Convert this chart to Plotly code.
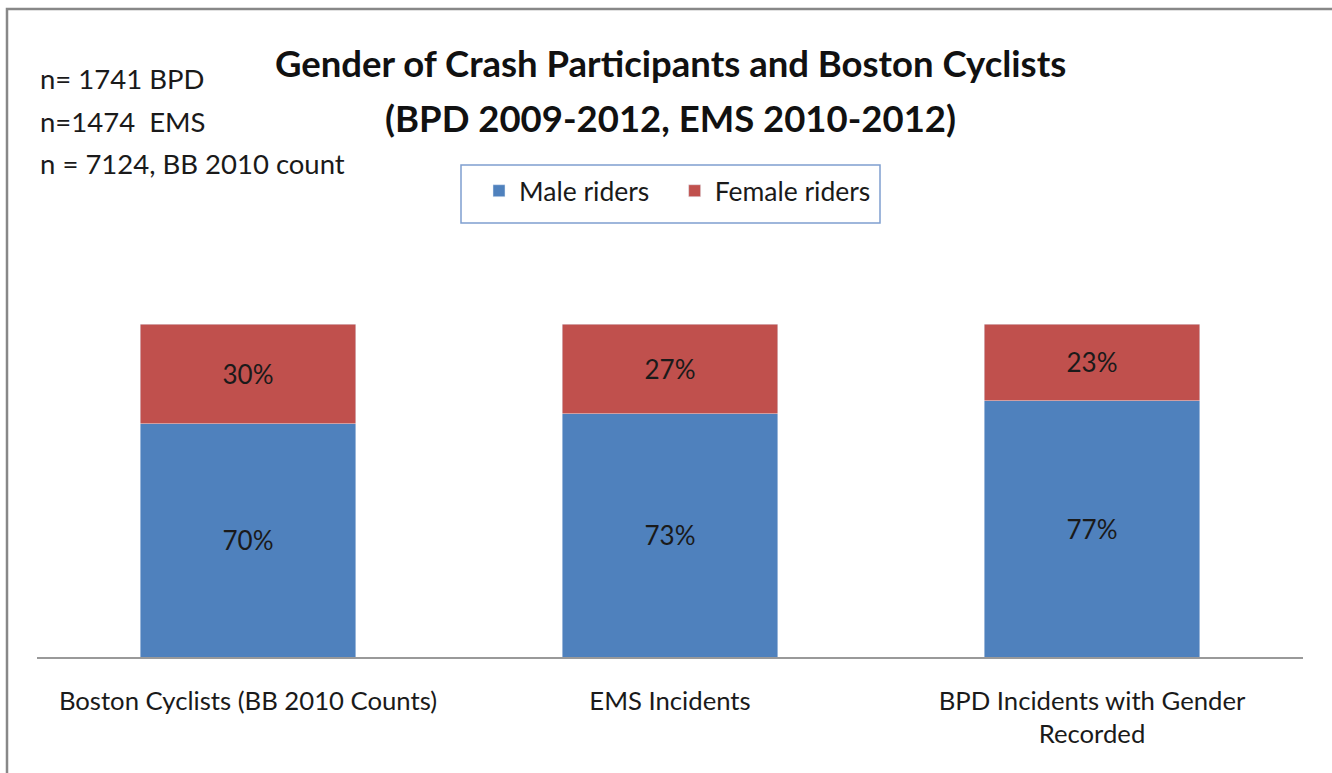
import plotly.graph_objects as go

categories = ["Boston Cyclists (BB 2010 Counts)", "EMS Incidents", "BPD Incidents with Gender<br>Recorded"]
male = [0.70, 0.73, 0.77]
female = [0.30, 0.27, 0.23]
notes = ["n= 1741 BPD", "n=1474  EMS", "n = 7124, BB 2010 count"]
title_lines = ["Gender of Crash Participants and Boston Cyclists", "(BPD 2009-2012, EMS 2010-2012)"]
series_names = ["Male riders", "Female riders"]

FONT = "Lato"
W, H = 1332, 773
ML, MR, MT, MB = 37, 29, 324, 116
PW, PH = W - ML - MR, H - MT - MB
PAD = "\u00a0" * 3


def px_x(x):
    return (x - ML) / PW


def px_y(y):
    return (H - MB - y) / PH


fig = go.Figure()
fig.add_trace(go.Bar(x=categories, y=male, name=series_names[0] + PAD, marker_color="#4F81BD",
                     texttemplate="%{y:.0%}", textposition="inside", insidetextanchor="middle",
                     textfont=dict(size=26, color="#1a1a1a", family=FONT)))
fig.add_trace(go.Bar(x=categories, y=female, name=series_names[1], marker_color="#C0504D",
                     texttemplate="%{y:.0%}", textposition="inside", insidetextanchor="middle",
                     textfont=dict(size=26, color="#1a1a1a", family=FONT)))

fig.update_layout(
    width=W, height=H, barmode="stack", bargap=0.49,
    paper_bgcolor="white", plot_bgcolor="white",
    margin=dict(l=ML, r=MR, t=MT, b=MB),
    font=dict(family=FONT, color="#1a1a1a"),
    legend=dict(orientation="h", xref="container", yref="container",
                x=479 / W, xanchor="left", y=1 - 167 / H, yanchor="top",
                borderwidth=0, bgcolor="rgba(0,0,0,0)",
                font=dict(size=26.5, family=FONT, color="#1a1a1a"),
                itemwidth=30, traceorder="normal"),
    xaxis=dict(showline=True, linecolor="#999", linewidth=1.5, showgrid=False, ticks="",
               tickfont=dict(size=25.7, family=FONT, color="#1a1a1a"), ticklabelstandoff=20),
    yaxis=dict(range=[0, 1], visible=False),
    showlegend=True,
)

for txt, yc in zip(title_lines, [63, 118]):
    fig.add_annotation(text="<b>" + txt + "</b>", xref="paper", yref="paper",
                       x=px_x(670), xanchor="center", y=px_y(yc), yanchor="middle",
                       showarrow=False, font=dict(size=36.5, family=FONT, color="#111"))

for i, t in enumerate(notes):
    fig.add_annotation(text=t, xref="paper", yref="paper", x=px_x(38), xanchor="left",
                       y=px_y(78 + 43 * i), yanchor="middle",
                       showarrow=False, font=dict(size=27.5, family=FONT, color="#1a1a1a"))

# legend box
fig.add_shape(type="rect", xref="paper", yref="paper",
              x0=px_x(461), x1=px_x(880), y0=px_y(223), y1=px_y(165),
              line=dict(color="#7F9FD0", width=1.5), fillcolor="white", layer="below")

# outer chart frame
fig.add_shape(type="rect", xref="paper", yref="paper",
              x0=px_x(7), x1=px_x(1345), y0=px_y(790), y1=px_y(9),
              line=dict(color="#888", width=2.5), fillcolor="rgba(0,0,0,0)", layer="below")

fig.write_html("out.html", config={"displayModeBar": False},
               post_script="document.body.style.margin='0';")
